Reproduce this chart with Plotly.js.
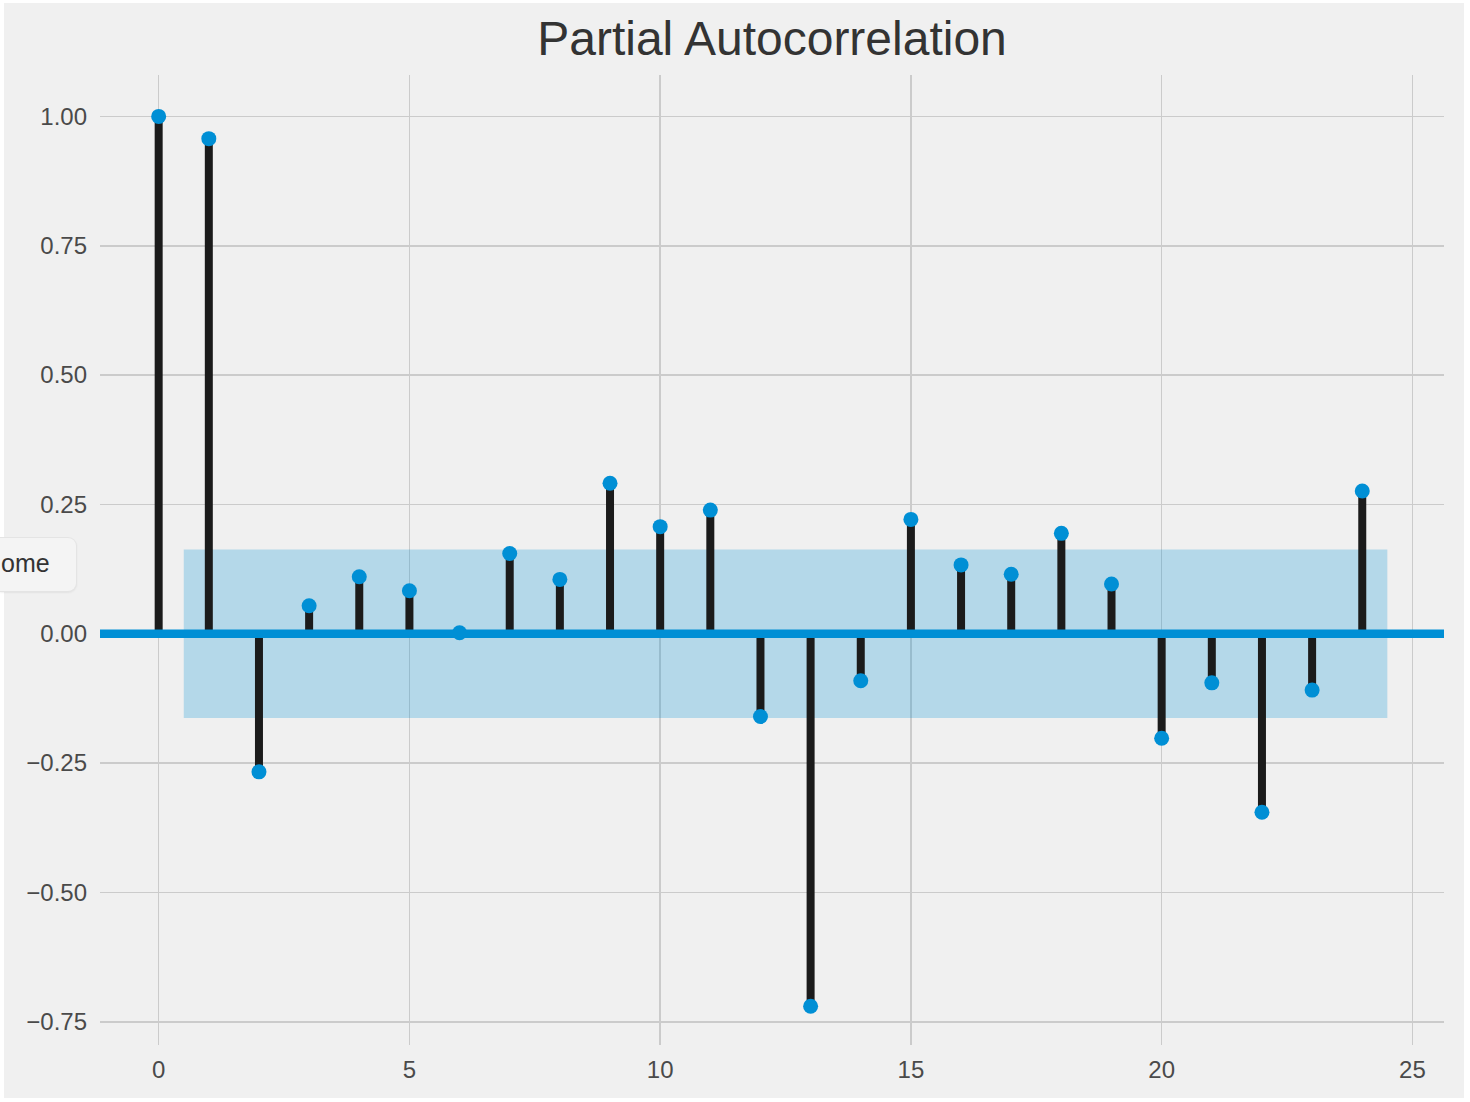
<!DOCTYPE html>
<html>
<head>
<meta charset="utf-8">
<script src="https://cdn.plot.ly/plotly-3.0.1.min.js"></script>
<style>
  html, body { margin: 0; padding: 0; background: #ffffff; width: 1470px; height: 1102px; overflow: hidden; }
  #chart { position: absolute; left: 4px; top: 3px; width: 1460px; height: 1095px; }
  #tip { position: absolute; left: 0px; top: 537px; width: 76px; height: 53px; background: #f4f4f4;
         border: 1px solid #e4e4e4; border-left: none; border-radius: 0 9px 9px 0; overflow: hidden;
         box-shadow: 0 1px 2px rgba(0,0,0,0.06); }
  #tip span { position: absolute; left: 1px; top: 10px; font-family: "Liberation Sans", Arial, sans-serif;
              font-size: 25px; color: #333333; line-height: 30px; white-space: nowrap; }
</style>
</head>
<body>
<div id="chart"></div>
<div id="tip"><span>ome</span></div>
<script>
// ---- data ----
const lags = [0, 1, 2, 3, 4, 5, 6, 7, 8, 9, 10, 11, 12, 13, 14, 15, 16, 17, 18, 19, 20, 21, 22, 23, 24];
const pacf = [1.000, 0.957, -0.267, 0.054, 0.110, 0.083, 0.002, 0.155, 0.105, 0.291, 0.207, 0.239,
              -0.160, -0.720, -0.091, 0.221, 0.133, 0.115, 0.194, 0.096, -0.202, -0.095, -0.345, -0.109, 0.276];
const confBound = 0.163;
const xTicks = [0, 5, 10, 15, 20, 25];
const yTicks = [-0.75, -0.50, -0.25, 0.00, 0.25, 0.50, 0.75, 1.00];
const titleText = "Partial Autocorrelation";

// ---- traces ----
const bandX0 = lags[1] - 0.5, bandX1 = lags[lags.length - 1] + 0.5;
const band = {
  type: "scatter", mode: "lines",
  x: [bandX0, bandX1, bandX1, bandX0, bandX0],
  y: [confBound, confBound, -confBound, -confBound, confBound],
  fill: "toself", fillcolor: "rgba(0,143,213,0.25)",
  line: { width: 0, color: "rgba(0,0,0,0)" },
  hoverinfo: "skip", showlegend: false
};

const stemX = [], stemY = [];
lags.forEach((l, i) => { stemX.push(l, l, null); stemY.push(0, pacf[i], null); });
const stems = {
  type: "scatter", mode: "lines", x: stemX, y: stemY,
  line: { color: "#1b1b1b", width: 8 },
  hoverinfo: "skip", showlegend: false
};

const markers = {
  type: "scatter", mode: "markers", x: lags, y: pacf,
  marker: { color: "#008fd5", size: 15, line: { width: 0 } },
  showlegend: false
};

const fontFam = '"Liberation Sans", Arial, Helvetica, sans-serif';
const layout = {
  width: 1460, height: 1095,
  margin: { l: 96, r: 20, t: 72, b: 53 },
  paper_bgcolor: "#f0f0f0", plot_bgcolor: "#f0f0f0",
  font: { family: fontFam, color: "#4a4a4a", size: 24 },
  title: {
    text: titleText, font: { family: fontFam, size: 48, color: "#333333" },
    x: 0.5, xref: "paper", xanchor: "center", y: 0.968, yref: "container", yanchor: "middle"
  },
  xaxis: {
    range: [-1.17, 25.63], tickvals: xTicks, ticktext: xTicks.map(String),
    showgrid: true, gridcolor: "#cbcbcb", gridwidth: 1.6, zeroline: false, showline: false,
    ticks: "", ticklabelstandoff: 8, tickfont: { size: 24, color: "#4a4a4a" }
  },
  yaxis: {
    range: [-0.795, 1.080], tickvals: yTicks, tickformat: ".2f",
    showgrid: true, gridcolor: "#cbcbcb", gridwidth: 1.6, zeroline: false, showline: false,
    ticks: "", ticklabelstandoff: 12, tickfont: { size: 24, color: "#4a4a4a" }
  },
  shapes: [{
    type: "line", xref: "paper", yref: "y", x0: 0, x1: 1, y0: 0, y1: 0,
    line: { color: "#008fd5", width: 8.5 }, layer: "above"
  }],
  showlegend: false
};

Plotly.newPlot("chart", [band, stems, markers], layout, { displayModeBar: false, staticPlot: true });
</script>
</body>
</html>
